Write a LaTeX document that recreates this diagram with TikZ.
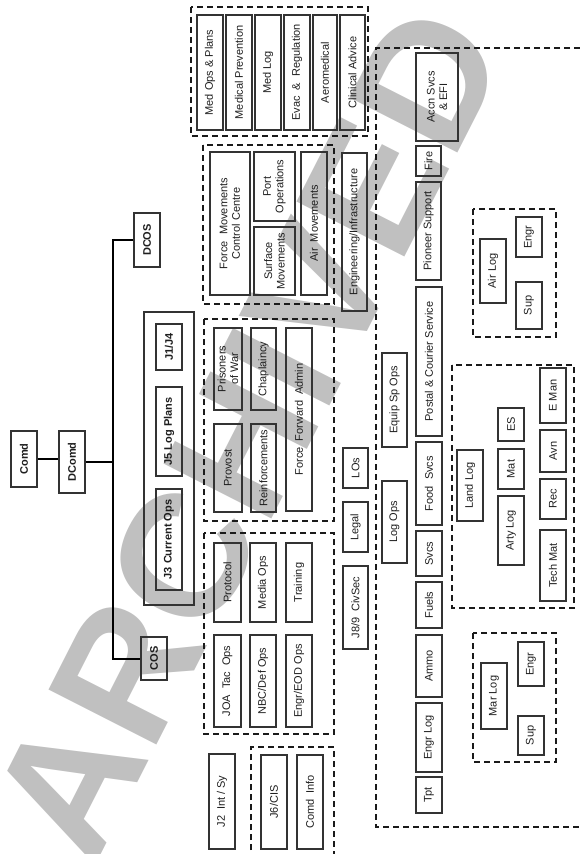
\documentclass[tikz,border=0pt]{standalone}
\usepackage{fontspec}
\setmainfont{Liberation Sans}
\definecolor{boxc}{HTML}{333333}
\definecolor{grpc}{HTML}{1A1A1A}
\definecolor{txtc}{HTML}{1E1E1E}
\definecolor{wm}{HTML}{C0C0C0}
\tikzset{
  box/.style={draw=boxc, line width=1.1pt, inner sep=1pt, align=center,
    font=\fontsize{11}{12.5}\selectfont, text=txtc},
  bbox/.style={font=\bfseries\fontsize{11}{12.5}\selectfont},
  grp/.style={draw=grpc, line width=1.8pt, dash pattern=on 6pt off 4pt},
  conn/.style={draw=black, line width=2pt},
  outerbox/.style={draw=boxc, line width=1.1pt},
}
\newcommand{\obox}[7][]{\node[box,#1,rotate=90,minimum width={(#6-#4)*1pt},minimum height={(#5-#3)*1pt}] (#2) at ({(#3+#5)/2},{(#4+#6)/2}) {#7};}
\begin{document}
\begin{tikzpicture}[x=1pt,y=-1pt]
\useasboundingbox (0,0) rectangle (580,854);
\clip (0,0) rectangle (580,854);
% watermark
\node[rotate=63, text=wm, font=\bfseries\fontsize{176}{176}\selectfont] (wmark) at (248,432) {ARCHIVED};

% command chain
\obox[bbox]{comd}{11}{431}{37}{487}{Comd}
\obox[bbox]{dcomd}{59}{431}{85}{493}{DComd}
\obox[bbox]{dcos}{134}{213}{160}{267}{DCOS}
\obox[bbox]{cos}{141}{637}{167}{680}{COS}
\coordinate (sp) at (113,0);
\draw[conn] (comd.south) -- (comd.south -| dcomd.north);
\draw[conn] (dcomd.south) -- (dcomd.south -| sp);
\draw[conn] (dcos.north) -- (dcos.north -| sp) -- (cos.north -| sp) -- (cos.north);

% J staff
\draw[outerbox] (144,312) rectangle (194,605);
\obox[bbox]{j1}{156}{324}{182}{370}{J1/J4}
\obox[bbox]{j5}{156}{387}{182}{476}{J5 Log Plans}
\obox[bbox]{j3}{156}{489}{182}{590}{J3 Current Ops}

% medical
\draw[grp] (191,7) rectangle (368,136);
\obox{med1}{197}{15}{223}{130}{Med Ops \& Plans}
\obox{med2}{226}{15}{252}{130}{Medical Prevention}
\obox{med3}{255}{15}{281}{130}{Med Log}
\obox{med4}{284}{15}{310}{130}{Evac\ \ \& \ Regulation}
\obox{med5}{313}{15}{337}{130}{Aeromedical}
\obox{med6}{340}{15}{365}{130}{Clinical Advice}

% movements
\draw[grp] (203,145) rectangle (334,304);
\obox{fmcc}{210}{152}{250}{295}{Force\ \ Movements\\Control Centre}
\obox{port}{254}{152}{295}{221}{Port\\Operations}
\obox{surf}{254}{227}{295}{295}{Surface\\Movements}
\obox{airmv}{301}{152}{327}{295}{Air\ \ Movements}
\obox{engi}{342}{153}{367}{311}{Engineering/Infrastructure}

% personnel
\draw[grp] (204,319) rectangle (334,521);
\obox{pow}{214}{328}{242}{410}{Prisoners\\of War}
\obox{chap}{251}{328}{276}{410}{Chaplaincy}
\obox{ffa}{286}{328}{312}{511}{Force\ \ Forward\ \ Admin}
\obox{prov}{214}{424}{242}{512}{Provost}
\obox{reinf}{251}{424}{276}{512}{Reinforcements}

\obox{los}{343}{448}{368}{488}{LOs}
\obox{legal}{343}{502}{368}{552}{Legal}
\obox{civsec}{343}{566}{368}{649}{J8/9\ \ CivSec}

% ops
\draw[grp] (204,533) rectangle (334,734);
\obox{prot}{214}{543}{241}{622}{Protocol}
\obox{media}{250}{543}{276}{622}{Media Ops}
\obox{train}{286}{543}{312}{622}{Training}
\obox{joa}{214}{635}{241}{727}{JOA\ \ Tac\ \ Ops}
\obox{nbc}{250}{635}{276}{727}{NBC/Def Ops}
\obox{eod}{286}{635}{312}{727}{Engr/EOD Ops}

\obox{j2}{209}{754}{235}{849}{J2\ \ Int / Sy}
\draw[grp] (251,870) -- (251,747) -- (334,747) -- (334,870);
\obox{cis}{261}{755}{287}{849}{J6/CIS}
\obox{cinfo}{297}{755}{323}{849}{Comd\ \ Info}

% logistics
\draw[grp] (600,48) -- (376,48) -- (376,827) -- (600,827);
\obox{accn}{416}{53}{458}{141}{Accn Svcs\\\& EFI}
\obox{fire}{416}{146}{441}{176}{Fire}
\obox{pion}{416}{182}{441}{280}{Pioneer Support}
\obox{postal}{416}{287}{442}{436}{Postal \& Courier Service}
\obox{food}{416}{442}{442}{525}{Food\ \ Svcs}
\obox{svcs}{416}{531}{442}{576}{Svcs}
\obox{fuels}{416}{582}{442}{628}{Fuels}
\obox{ammo}{416}{635}{442}{697}{Ammo}
\obox{engrlog}{416}{703}{442}{772}{Engr Log}
\obox{tpt}{416}{777}{442}{813}{Tpt}
\obox{eqsp}{382}{353}{407}{447}{Equip Sp Ops}
\obox{logops}{382}{481}{407}{563}{Log Ops}

% air log
\draw[grp] (473,209) rectangle (556,337);
\obox{airlog}{480}{239}{506}{303}{Air Log}
\obox{airengr}{516}{217}{542}{257}{Engr}
\obox{airsup}{516}{282}{542}{329}{Sup}

% land log
\draw[grp] (452,365) rectangle (574,608);
\obox{landlog}{457}{450}{483}{521}{Land Log}
\obox{arty}{498}{496}{524}{565}{Arty Log}
\obox{mat}{498}{449}{524}{489}{Mat}
\obox{es}{498}{408}{524}{441}{ES}
\obox{eman}{540}{368}{566}{423}{E Man}
\obox{avn}{540}{430}{566}{472}{Avn}
\obox{rec}{540}{479}{566}{519}{Rec}
\obox{tech}{540}{530}{566}{601}{Tech Mat}

% mar log
\draw[grp] (473,633) rectangle (556,762);
\obox{marlog}{481}{663}{507}{729}{Mar Log}
\obox{marengr}{518}{642}{544}{686}{Engr}
\obox{marsup}{518}{716}{544}{755}{Sup}
\end{tikzpicture}
\end{document}
